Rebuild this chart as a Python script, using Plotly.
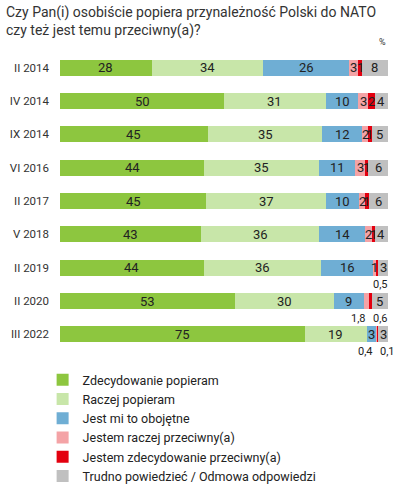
import plotly.graph_objects as go

categories = ["II 2014", "IV 2014", "IX 2014", "VI 2016", "II 2017", "V 2018", "II 2019", "II 2020", "III 2022"]
series_names = ["Zdecydowanie popieram", "Raczej popieram", "Jest mi to obojętne",
                "Jestem raczej przeciwny(a)", "Jestem zdecydowanie przeciwny(a)",
                "Trudno powiedzieć / Odmowa odpowiedzi"]
zdecydowanie_popieram = [28, 50, 45, 44, 45, 43, 44, 53, 75]
raczej_popieram = [34, 31, 35, 35, 37, 36, 36, 30, 19]
obojetne = [26, 10, 12, 11, 10, 14, 16, 9, 3]
raczej_przeciwny = [3, 3, 2, 3, 2, 2, 1, 1.8, 0.4]
zdecydowanie_przeciwny = [1, 2, 1, 1, 1, 1, 0.5, 0.6, 0.1]
trudno = [8, 4, 5, 6, 6, 4, 3, 5, 3]
colors = ["#8DC63F", "#C8E6A9", "#6FAED4", "#F4A3A6", "#E3000F", "#C0C0C0"]
title_text = "Czy Pan(i) osobiście popiera przynależność Polski do NATO<br>czy też jest temu przeciwny(a)?"

series = [zdecydowanie_popieram, raczej_popieram, obojetne, raczej_przeciwny, zdecydowanie_przeciwny, trudno]
totals = [sum(s[i] for s in series) for i in range(len(categories))]

def fmt(v):
    return ("%g" % v).replace(".", ",")

fig = go.Figure()
for name, vals, col in zip(series_names, series, colors):
    shares = [v / t * 100 for v, t in zip(vals, totals)]
    fig.add_trace(go.Bar(
        y=categories, x=shares, name=name, orientation="h",
        marker=dict(color=col, line=dict(width=0)),
        hoverinfo="skip",
    ))

# value labels (centred in segments; fractional values below the bar)
shifts = {("II 2019", 0.5): 3, ("II 2020", 1.8): -8, ("II 2020", 0.6): 10,
          ("III 2022", 0.4): -12, ("III 2022", 0.1): 9}
for i, cat in enumerate(categories):
    cum = 0
    for vals in series:
        v = vals[i]
        share = v / totals[i] * 100
        xc = cum + share / 2
        if float(v).is_integer():
            fig.add_annotation(x=xc, y=cat, text=fmt(v), showarrow=False,
                               font=dict(size=13, color="#222222", family="Roboto"))
        else:
            fig.add_annotation(x=xc, y=cat, text=fmt(v), showarrow=False,
                               xshift=shifts.get((cat, v), 0), yshift=-17,
                               font=dict(size=11, color="#222222", family="Roboto"))
        cum += share

fig.add_annotation(x=1.0, y=1.0, xref="paper", yref="paper", text="%", showarrow=False,
                   xanchor="right", yanchor="bottom", yshift=2,
                   font=dict(size=9, color="#333333", family="Roboto"))

# title as annotation (top-left of the page)
fig.add_annotation(x=0, y=1, xref="paper", yref="paper", text=title_text, showarrow=False,
                   xanchor="left", yanchor="top", align="left", xshift=-56, yshift=49,
                   font=dict(size=14, color="#333333", family="Roboto"))

fig.update_layout(
    width=397, height=491,
    margin=dict(l=60, r=9, t=51, b=140, autoexpand=False),
    barmode="stack", bargap=0.52,
    plot_bgcolor="white", paper_bgcolor="white",
    font=dict(family="Roboto", color="#333333"),
    xaxis=dict(range=[0, 100], visible=False, fixedrange=True),
    yaxis=dict(autorange="reversed", showgrid=False, zeroline=False, showline=False,
               ticks="", ticklabelstandoff=10, fixedrange=True,
               tickfont=dict(size=11.5, color="#333333", family="Roboto")),
    legend=dict(orientation="v", x=-0.053, xanchor="left", y=-0.047, yanchor="top",
                traceorder="normal", font=dict(size=12.5, color="#222222", family="Roboto"),
                itemwidth=30, tracegroupgap=0, bgcolor="rgba(0,0,0,0)"),
    showlegend=True,
)

fig.write_html("out.html", config={"displayModeBar": False},
               post_script="document.body.style.margin='0px';")
